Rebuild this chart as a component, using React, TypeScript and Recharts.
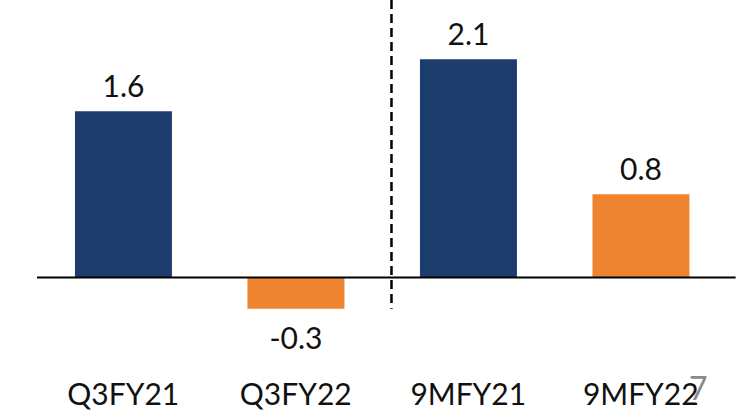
import React from 'react';
import { BarChart, Bar, XAxis, YAxis, Cell, LabelList, ReferenceLine } from 'recharts';

const categories = ['Q3FY21', 'Q3FY22', '9MFY21', '9MFY22'];
const values = [1.6, -0.3, 2.1, 0.8];
const barColors = ['#1c3d6e', '#ee8430', '#1c3d6e', '#ee8430'];
const pageNumber = '7';

const data = categories.map((name, i) => ({ name, value: values[i], idx: i }));

const FONT = 'Lato, "Open Sans", sans-serif';

// value labels: above positive bars, below negative ones
const ValueLabel = (props: any) => {
  const { x, y, width, height, value } = props;
  const top = Math.min(y, y + height);
  const bottom = Math.max(y, y + height);
  const neg = value < 0;
  return (
    <text
      x={x + width / 2}
      y={neg ? bottom + 40 : top - 14}
      textAnchor="middle"
      fontFamily={FONT}
      fontSize={30}
      fill="#111"
    >
      {value.toFixed(1)}
    </text>
  );
};

const CatTick = (props: any) => {
  const { x, y, payload } = props;
  return (
    <text x={x} y={y} dy={60} textAnchor="middle" fontFamily={FONT} fontSize={30} fill="#111">
      {payload.value}
    </text>
  );
};

const App: React.FC = () => {
  return (
    <div style={{ position: 'absolute', left: 0, top: 0, width: 743, height: 410, background: '#fff' }}>
      <BarChart
        width={743}
        height={410}
        data={data}
        margin={{ top: 0, right: 16, left: 37, bottom: 0 }}
        barCategoryGap="22%"
      >
        <XAxis
          dataKey="name"
          axisLine={false}
          tickLine={false}
          tickSize={0}
          tickMargin={0}
          height={65}
          interval={0}
          tick={<CatTick />}
        />
        <XAxis xAxisId="num" dataKey="idx" type="number" domain={[0, 4]} allowDataOverflow hide />
        <YAxis hide domain={[-0.65, 2.67]} />
        <ReferenceLine
          xAxisId="num"
          segment={[{ x: 0, y: 0 }, { x: 4.05, y: 0 }]}
          stroke="#000"
          strokeWidth={2}
          ifOverflow="visible"
        />
        <ReferenceLine
          xAxisId="num"
          segment={[{ x: 2.055, y: 2.67 }, { x: 2.055, y: -0.3 }]}
          stroke="#000"
          strokeWidth={2.5}
          strokeDasharray="9 5"
          ifOverflow="visible"
        />
        <Bar dataKey="value" isAnimationActive={false}>
          {data.map((d) => (
            <Cell key={d.name} fill={barColors[d.idx]} />
          ))}
          <LabelList dataKey="value" content={<ValueLabel />} />
        </Bar>
      </BarChart>
      <span
        style={{
          position: 'absolute',
          left: 689,
          top: 372,
          fontFamily: FONT,
          fontSize: 32,
          color: '#8a8a8a',
          lineHeight: 1,
        }}
      >
        {pageNumber}
      </span>
    </div>
  );
};

export default App;
